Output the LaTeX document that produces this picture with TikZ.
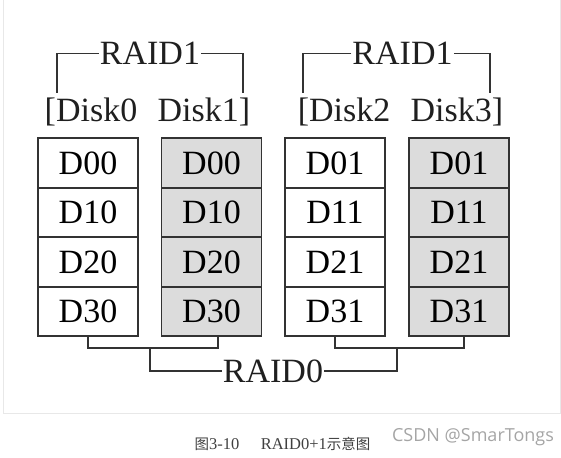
\documentclass[tikz,border=0pt]{standalone}
\usepackage{fontspec}
\setmainfont{Liberation Serif}
\newfontfamily\cjk{Noto Sans CJK SC}
\newfontfamily\wmfont{Open Sans}
\definecolor{linegray}{RGB}{51,51,51}
\definecolor{mirrorgray}{RGB}{220,220,220}
\definecolor{cardgray}{RGB}{232,232,232}
\definecolor{markgray}{RGB}{165,165,165}
\definecolor{capgray}{RGB}{64,64,64}

\begin{document}
\begin{tikzpicture}[x=1pt,y=-1pt,
    blk/.style={draw=linegray,line width=1.6pt,minimum width=100pt,minimum height=49.5pt,inner sep=0pt,font=\fontsize{34}{34}\selectfont},
    mir/.style={blk,fill=mirrorgray},
    lbl/.style={inner sep=1pt,font=\fontsize{34}{34}\selectfont,text=linegray!60!black},
    brk/.style={draw=linegray,line width=1.6pt}]
    \useasboundingbox (0,0) rectangle (561,457);
    % card frame
    \draw[cardgray,line width=1pt] (3,-5) rectangle (560,413);
    % Disk0 and Disk1
    \node[blk] (k0r0) at (88,163) {D00};
    \node[blk] (k0r1) at (88,212.5) {D10};
    \node[blk] (k0r2) at (88,262) {D20};
    \node[blk] (k0r3) at (88,311.5) {D30};
    \node[mir] (k1r0) at (211.5,163) {D00};
    \node[mir] (k1r1) at (211.5,212.5) {D10};
    \node[mir] (k1r2) at (211.5,262) {D20};
    \node[mir] (k1r3) at (211.5,311.5) {D30};
    % Disk2 and Disk3
    \node[blk] (k2r0) at (335,163) {D01};
    \node[blk] (k2r1) at (335,212.5) {D11};
    \node[blk] (k2r2) at (335,262) {D21};
    \node[blk] (k2r3) at (335,311.5) {D31};
    \node[mir] (k3r0) at (459,163) {D01};
    \node[mir] (k3r1) at (459,212.5) {D11};
    \node[mir] (k3r2) at (459,262) {D21};
    \node[mir] (k3r3) at (459,311.5) {D31};
    % disk names
    \node[lbl,anchor=base] (pairA) at (147.5,121.5) {[Disk0\hspace{0.6em}Disk1]};
    \node[lbl,anchor=base] (pairB) at (400.5,121.5) {[Disk2\hspace{0.6em}Disk3]};
    % RAID1 labels
    \node[lbl] (mirA) at (150,53.5) {RAID1};
    \node[lbl] (mirB) at (402.5,53.5) {RAID1};
    \coordinate (mirAl) at (57,93);
    \coordinate (mirAr) at (243,93);
    \coordinate (mirBl) at (303,93);
    \coordinate (mirBr) at (490,93);
    \draw[brk] (mirA.west) -| (mirAl);
    \draw[brk] (mirA.east) -| (mirAr);
    \draw[brk] (mirB.west) -| (mirBl);
    \draw[brk] (mirB.east) -| (mirBr);
    % RAID0 label
    \node[lbl] (strp) at (273,371) {RAID0};
    \coordinate (jA) at (150,348);
    \coordinate (jB) at (397,348);
    \draw[brk] (k0r3.south) |- (jA) -| ([xshift=6.5pt]k1r3.south);
    \draw[brk] (k2r3.south) |- (jB) -| ([xshift=5pt]k3r3.south);
    \draw[brk] (jA) |- (strp.west);
    \draw[brk] (jB) |- (strp.east);
    % caption and mark
    \node[font=\fontsize{16.5}{16.5}\selectfont,text=capgray] (cap) at (282.5,444) {{\cjk\fontsize{14.5}{14.5}\selectfont 图}3-10\hspace{1.3em}RAID0+1{\cjk\fontsize{14.5}{14.5}\selectfont 示意图}};
    \node[font=\wmfont\fontsize{18}{18}\selectfont,text=markgray] (wm) at (473,437) {CSDN @SmarTongs};
\end{tikzpicture}
\end{document}
